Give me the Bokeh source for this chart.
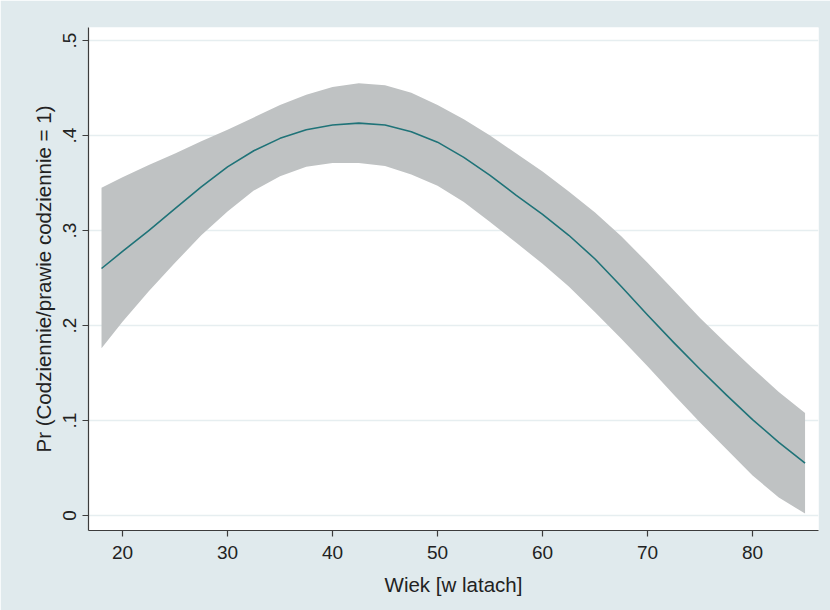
from bokeh.plotting import figure
from bokeh.models import Range1d, ColumnDataSource, FixedTicker
from bokeh.embed import file_html
from bokeh.resources import INLINE

# Age (years)
age = [18, 20, 22.5, 25, 27.5, 30, 32.5, 35, 37.5, 40, 42.5, 45, 47.5, 50,
       52.5, 55, 57.5, 60, 62.5, 65, 67.5, 70, 72.5, 75, 77.5, 80, 82.5, 85]
# Predicted probability
pr = [0.260, 0.278, 0.300, 0.323, 0.346, 0.367, 0.384, 0.397, 0.406, 0.411,
      0.413, 0.411, 0.404, 0.393, 0.377, 0.358, 0.337, 0.317, 0.295, 0.270,
      0.241, 0.211, 0.182, 0.154, 0.127, 0.101, 0.077, 0.055]
# Confidence interval upper bound
ci_upper = [0.345, 0.356, 0.369, 0.381, 0.394, 0.406, 0.419, 0.432, 0.443, 0.451,
            0.455, 0.453, 0.445, 0.432, 0.417, 0.400, 0.381, 0.362, 0.341, 0.319,
            0.294, 0.266, 0.237, 0.208, 0.181, 0.155, 0.130, 0.108]
# Confidence interval lower bound
ci_lower = [0.176, 0.204, 0.236, 0.266, 0.295, 0.320, 0.342, 0.357, 0.367, 0.371,
            0.371, 0.368, 0.359, 0.347, 0.330, 0.309, 0.287, 0.265, 0.241, 0.214,
            0.186, 0.157, 0.127, 0.098, 0.070, 0.042, 0.019, 0.002]

x_ticks = [20, 30, 40, 50, 60, 70, 80]
y_ticks = [0, 0.1, 0.2, 0.3, 0.4, 0.5]
y_tick_labels = ["0", ".1", ".2", ".3", ".4", ".5"]

src = ColumnDataSource(dict(age=age, pr=pr, lo=ci_lower, hi=ci_upper))

p = figure(width=830, height=610, output_backend="svg", toolbar_location=None,
           x_range=Range1d(16.76, 86.28), y_range=Range1d(-0.0158, 0.5137),
           min_border_left=88, min_border_right=12, min_border_top=27,
           min_border_bottom=80)

p.border_fill_color = "#e0eaed"
p.background_fill_color = "#ffffff"
p.outline_line_color = None

p.varea(x="age", y1="lo", y2="hi", source=src, fill_color="#bfc2c3", fill_alpha=1.0)
p.line(x="age", y="pr", source=src, line_color="#1f7378", line_width=1.6,
       line_join="round")

font = "Liberation Sans"

p.xaxis.ticker = FixedTicker(ticks=x_ticks)
p.yaxis.ticker = FixedTicker(ticks=y_ticks)
p.yaxis.major_label_overrides = {t: l for t, l in zip(y_ticks, y_tick_labels)}
p.yaxis.major_label_orientation = "vertical"

for ax in (p.xaxis[0], p.yaxis[0]):
    ax.axis_line_color = "#3c3c3c"
    ax.axis_line_width = 1.2
    ax.major_tick_line_color = "#3c3c3c"
    ax.major_tick_line_width = 1.2
    ax.major_tick_out = 6
    ax.major_tick_in = 0
    ax.minor_tick_line_color = None
    ax.major_label_text_font = font
    ax.major_label_text_font_size = "19px"
    ax.major_label_text_color = "#222222"
    ax.axis_label_text_font = font
    ax.axis_label_text_font_size = "20.5px"
    ax.axis_label_text_font_style = "normal"
    ax.axis_label_text_color = "#222222"

p.xaxis.axis_label = "Wiek [w latach]"
p.yaxis.axis_label = "Pr (Codziennie/prawie codziennie = 1)"
p.xaxis.major_label_standoff = 9
p.xaxis.axis_label_standoff = 11
p.yaxis.major_label_standoff = 6
p.yaxis.axis_label_standoff = 6

p.xgrid.grid_line_color = None
p.ygrid.grid_line_color = "#e6eef0"
p.ygrid.grid_line_width = 1.5

open("out.html", "w").write(file_html(p, INLINE))
